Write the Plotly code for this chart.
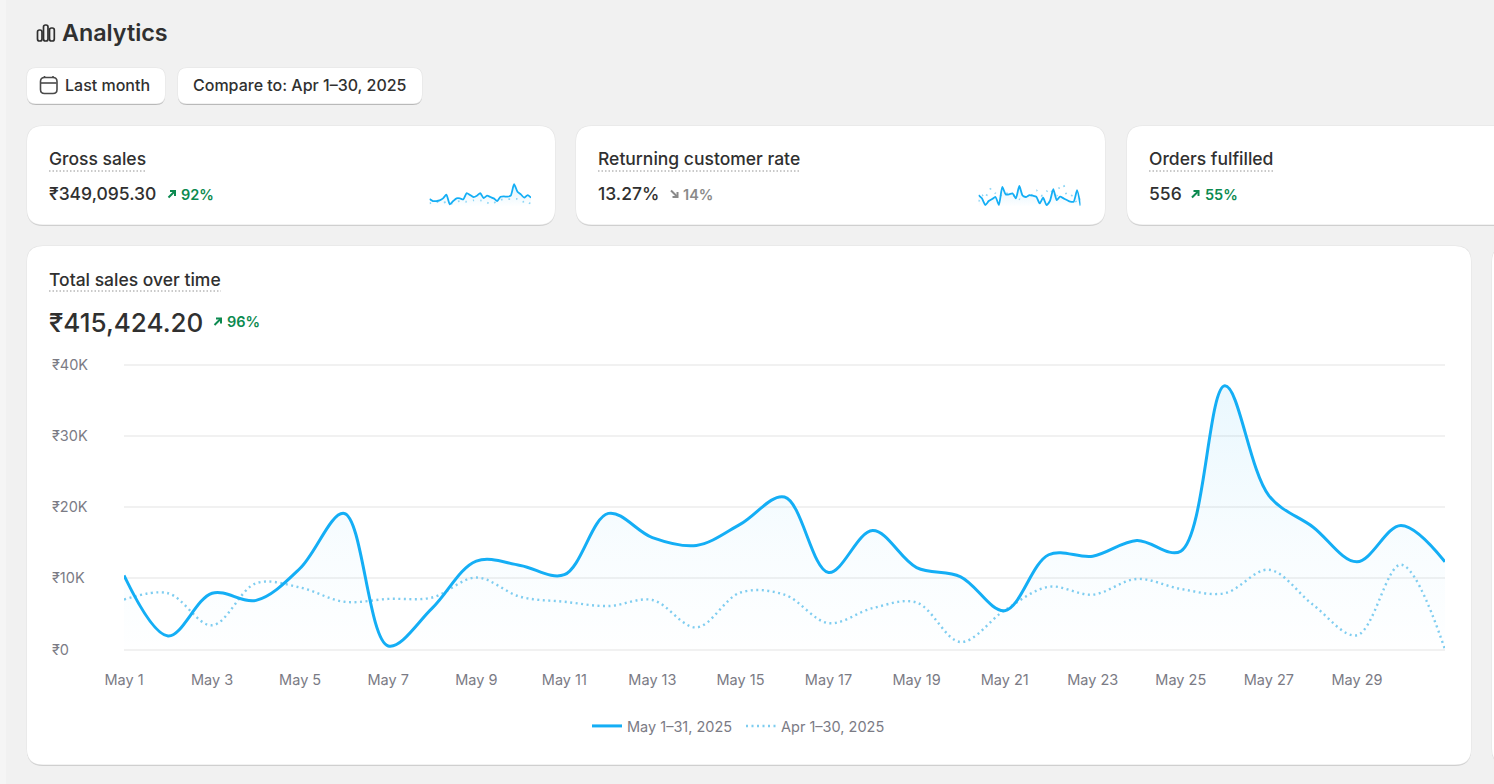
import plotly.graph_objects as go

W = 1494
H = 784

# chart data (in rupees)
days = [f"May {d}" for d in range(1, 32)]
tick_days = days[0:29:2]
may_sales = [10400, 1900, 7900, 6900, 11400, 19100, 500, 5800, 12400, 11800, 10500, 19100, 15700, 14600, 17600, 21400,
             10800, 16700, 11500, 10200, 5450, 13300, 13100, 15300, 13800, 37000, 21600, 17200, 12300, 17400, 12300]
apr_sales = [7000, 7900, 3400, 9300, 8700, 6700, 7100, 7300, 10100, 7400, 6700, 6100, 6950, 3100, 8000, 7700,
             3700, 5800, 6600, 1050, 5500, 8800, 7700, 9900, 8500, 7900, 11200, 6300, 2000, 11900, 0]
y_ticks = [0, 10000, 20000, 30000, 40000]
y_labels = ["₹0", "₹10K", "₹20K", "₹30K", "₹40K"]

# sparklines
spark_x = list(range(31))
gross_now = [10.1, 7.5, 7.5, 8.4, 11, 15.8, 3.1, 7.5, 11, 11, 9.7, 18, 15.4, 12.8, 14.5, 18,
             11.4, 14.5, 12.8, 11, 7.5, 13.2, 13.6, 13.2, 14.5, 29.9, 19.8, 16.3, 11.9, 15.4, 11.9]
gross_prev = [4.4, 5.7, 6.6, 5.7, 4.8, 6.6, 3.9, 4.8, 6.6, 7.5, 6.6, 6.6, 7.5, 8.4, 8.8, 8.4,
              7.5, 5.7, 3.5, 4.8, 7.5, 9.2, 10.1, 10.1, 10.1, 10.1, 10.1, 6.6, 6.6, 7.5, 2.2]
rate_now = [15, 10.8, 2.2, 7.3, 9.9, 12.5, 2.2, 25.4, 15.9, 15.9, 17.2, 10.8, 26.7, 14.2, 12.5, 15,
            14.2, 12.9, 4.3, 11.6, 2.2, 7.3, 22.8, 8.6, 12.9, 10.8, 8.6, 6.5, 6.5, 21.5, 1.3]
rate_prev = [6.5, 15, 10.8, 21.5, 23.7, 17.2, 12.9, 15.9, 18.5, 15, 14.2, 15, 9.9, 8.6, 15, 15,
             15.9, 21.5, 15, 14.2, 19.4, 23.7, 15.9, 14.2, 27.1, 28, 14.2, 15, 12.9, 4.3, 10.8]

BLUE = "#14aef5"
DOT_BLUE = "#7fcdf0"
TEXT = "#303030"
GREEN = "#0c8a50"
GREY = "#8a8a8a"
TICK = "#7b7b85"
FONT = "Inter"


def fx(px):
    return px / W


def fy(py):
    return 1 - py / H


def rounded(x0, y0, x1, y1, r):
    pts = [
        ("M", x0 + r, y0), ("L", x1 - r, y0), ("Q", x1, y0, x1, y0 + r), ("L", x1, y1 - r),
        ("Q", x1, y1, x1 - r, y1), ("L", x0 + r, y1), ("Q", x0, y1, x0, y1 - r), ("L", x0, y0 + r),
        ("Q", x0, y0, x0 + r, y0),
    ]
    out = []
    for p in pts:
        nums = []
        for i, v in enumerate(p[1:]):
            nums.append(f"{fx(v) if i % 2 == 0 else fy(v):.6f}")
        out.append(p[0] + " " + " ".join(nums))
    return " ".join(out) + " Z"


def poly(points):
    return "M " + " L ".join(f"{fx(x):.6f} {fy(y):.6f}" for x, y in points)


shapes = []
annotations = []


def card(x0, y0, x1, y1, r, shadow="#cfcfcf", border="#e4e4e4"):
    shapes.append(dict(type="path", path=rounded(x0, y0 + 1.5, x1, y1 + 1, r), xref="paper", yref="paper",
                       fillcolor=shadow, line_width=0, layer="below"))
    shapes.append(dict(type="path", path=rounded(x0 - 0.5, y0 - 0.5, x1 + 0.5, y1, r), xref="paper", yref="paper",
                       fillcolor=border, line_width=0, layer="below"))
    shapes.append(dict(type="path", path=rounded(x0, y0, x1, y1 - 0.5, r), xref="paper", yref="paper",
                       fillcolor="white", line_width=0, layer="below"))


def label(px, py, text, size=17.5, color=TEXT, weight=500):
    annotations.append(dict(x=fx(px), y=fy(py), xref="paper", yref="paper", text=text, showarrow=False,
                            xanchor="left", yanchor="middle", xshift=-2, align="left",
                            font=dict(family=FONT, size=size, color=color, weight=weight)))


def underline(x0, x1, py):
    shapes.append(dict(type="line", x0=fx(x0), x1=fx(x1), y0=fy(py), y1=fy(py), xref="paper", yref="paper",
                       line=dict(color="#b8b8b8", width=1.5, dash="1.5px,2px"), layer="above"))


def stroke(points, color, width=1.6):
    shapes.append(dict(type="path", path=poly(points), xref="paper", yref="paper",
                       line=dict(color=color, width=width), layer="above"))


def arrow_up(x, y, color):
    stroke([(x, y + 7), (x + 6.5, y + 0.5)], color, 2)
    stroke([(x + 1.5, y + 0.5), (x + 6.5, y + 0.5), (x + 6.5, y + 5.5)], color, 2)


def arrow_down(x, y, color):
    stroke([(x, y), (x + 6.5, y + 6.5)], color, 2)
    stroke([(x + 1.5, y + 6.5), (x + 6.5, y + 6.5), (x + 6.5, y + 1.5)], color, 2)


# page background and the lighter strip on the left edge
shapes.append(dict(type="rect", x0=0, x1=fx(6), y0=0, y1=1, xref="paper", yref="paper",
                   fillcolor="#f5f5f5", line_width=0, layer="below"))

# --- header ---
for x0, x1, top in [(37.5, 42, 30), (43.5, 48, 25), (49.5, 54.3, 28)]:
    shapes.append(dict(type="path", path=rounded(x0, top, x1, 41, 2), xref="paper", yref="paper",
                       fillcolor="rgba(0,0,0,0)", line=dict(color=TEXT, width=1.7), layer="above"))
label(62, 32.5, "Analytics", size=23.3, weight=600)

card(27, 68, 165, 104, 9, shadow="#b9b9b9")
card(178, 68, 422, 104, 9, shadow="#b9b9b9")
shapes.append(dict(type="path", path=rounded(40.5, 77.5, 57, 93.5, 4), xref="paper", yref="paper",
                   fillcolor="rgba(0,0,0,0)", line=dict(color="#4a4a4a", width=1.6), layer="above"))
stroke([(41, 83), (56.5, 83)], "#4a4a4a")
stroke([(44.5, 76), (44.5, 78)], "#4a4a4a")
stroke([(53, 76), (53, 78)], "#4a4a4a")
label(65, 85.5, "Last month", size=16)
label(193, 85.5, "Compare to: Apr 1–30, 2025", size=16)

# --- metric cards ---
card(27, 126, 555, 225, 16)
card(576, 126, 1105, 225, 16)
card(1127, 126, 1530, 225, 16)

label(49, 159, "Gross sales")
underline(49, 146, 171)
label(49, 193.5, "₹349,095.30")
arrow_up(168.5, 190.5, GREEN)
label(181, 194.5, "92%", size=14.5, color=GREEN, weight=600)

label(598, 159, "Returning customer rate")
underline(598, 801, 171)
label(598, 193.5, "13.27%")
arrow_down(671, 190.5, GREY)
label(683, 194.5, "14%", size=14.5, color=GREY, weight=600)

label(1149, 159, "Orders fulfilled")
underline(1149, 1274, 171)
label(1149, 193.5, "556")
arrow_up(1192, 190.5, GREEN)
label(1205, 194.5, "55%", size=14.5, color=GREEN, weight=600)

# --- main card ---
card(27, 246, 1471, 765, 16)
card(1492, 246, 1530, 765, 16)
label(49, 279, "Total sales over time")
underline(49, 221, 291)
label(49, 322, "₹415,424.20", size=26)
arrow_up(214.5, 318, GREEN)
label(227, 321.5, "96%", size=14.5, color=GREEN, weight=600)

fig = go.Figure()

# fill under the current period goes first so both lines sit on it
fig.add_trace(go.Scatter(
    x=days, y=may_sales, mode="lines", showlegend=False, hoverinfo="skip",
    line=dict(width=0, shape="spline", smoothing=1),
    fill="tozeroy",
    fillgradient=dict(type="vertical", colorscale=[[0, "rgba(20,174,245,0.004)"], [0.4, "rgba(20,174,245,0.03)"],
                                                   [1, "rgba(20,174,245,0.09)"]]),
))
fig.add_trace(go.Scatter(
    x=days, y=apr_sales, mode="lines", name="Apr 1–30, 2025", legendrank=2, cliponaxis=False,
    line=dict(color=DOT_BLUE, width=2.4, dash="2px,3.5px", shape="spline", smoothing=1),
))
fig.add_trace(go.Scatter(
    x=days, y=may_sales, mode="lines", name="May 1–31, 2025", legendrank=1, cliponaxis=False,
    line=dict(color=BLUE, width=3, shape="spline", smoothing=1),
))

# sparklines, one hidden axis pair per card
sparks = [(gross_now, gross_prev, "x2", "y2"), (rate_now, rate_prev, "x3", "y3")]
for now, prev, xa, ya in sparks:
    fig.add_trace(go.Scatter(
        x=spark_x, y=now, xaxis=xa, yaxis=ya, mode="lines", showlegend=False, hoverinfo="skip",
        line=dict(width=0, shape="spline", smoothing=0.6), fill="tozeroy",
        fillgradient=dict(type="vertical", colorscale=[[0, "rgba(20,174,245,0)"], [1, "rgba(20,174,245,0.14)"]]),
    ))
    fig.add_trace(go.Scatter(
        x=spark_x, y=prev, xaxis=xa, yaxis=ya, mode="lines", showlegend=False, hoverinfo="skip", cliponaxis=False,
        line=dict(color="#8fd6f5", width=1.8, dash="1.5px,6px", shape="spline", smoothing=0.6),
    ))
    fig.add_trace(go.Scatter(
        x=spark_x, y=now, xaxis=xa, yaxis=ya, mode="lines", showlegend=False, hoverinfo="skip", cliponaxis=False,
        line=dict(color=BLUE, width=1.8, shape="spline", smoothing=0.6),
    ))

hidden = dict(visible=False, fixedrange=True)
fig.update_layout(
    width=W,
    height=H,
    margin=dict(l=0, r=0, t=0, b=0, autoexpand=False),
    paper_bgcolor="#f1f1f1",
    plot_bgcolor="rgba(0,0,0,0)",
    font=dict(family=FONT, size=14.5, color=TICK),
    shapes=shapes,
    annotations=annotations,
    hovermode=False,
    xaxis=dict(
        type="category", categoryorder="array", categoryarray=days, range=[0, 30], automargin=False,
        domain=[fx(124), fx(1445)], tickmode="array", tickvals=tick_days, ticktext=tick_days,
        showgrid=False, zeroline=False, showline=False, ticks="", ticklabelstandoff=18, tickangle=0,
        tickfont=dict(family=FONT, size=14.5, color=TICK),
    ),
    # range runs a hair past 0 and 40K, otherwise plotly drops the gridlines at both ends
    yaxis=dict(
        range=[-210, 40210], domain=[fy(651), fy(363)], tickmode="array", tickvals=y_ticks, ticktext=y_labels,
        anchor="free", position=fx(51), side="right", showline=False, zeroline=False, ticks="", automargin=False,
        gridcolor="#f1f1f1", gridwidth=2,
        tickfont=dict(family=FONT, size=14.5, color=TICK),
    ),
    xaxis2=dict(range=[0, 30], domain=[fx(429.5), fx(531)], anchor="y2", **hidden),
    yaxis2=dict(range=[0, 32], domain=[fy(206.7), fy(182.5)], anchor="x2", **hidden),
    xaxis3=dict(range=[0, 30], domain=[fx(978.5), fx(1080.5)], anchor="y3", **hidden),
    yaxis3=dict(range=[0, 32], domain=[fy(206.7), fy(181.9)], anchor="x3", **hidden),
    legend=dict(
        orientation="h", x=fx(587), y=fy(726), xanchor="left", yanchor="middle", entrywidth=109,
        font=dict(family=FONT, size=14.5, color=TICK), bgcolor="rgba(0,0,0,0)",
    ),
)

fig.write_html("out.html", config=dict(displayModeBar=False),
               post_script="document.body.style.margin='0';document.body.style.overflow='hidden';")
